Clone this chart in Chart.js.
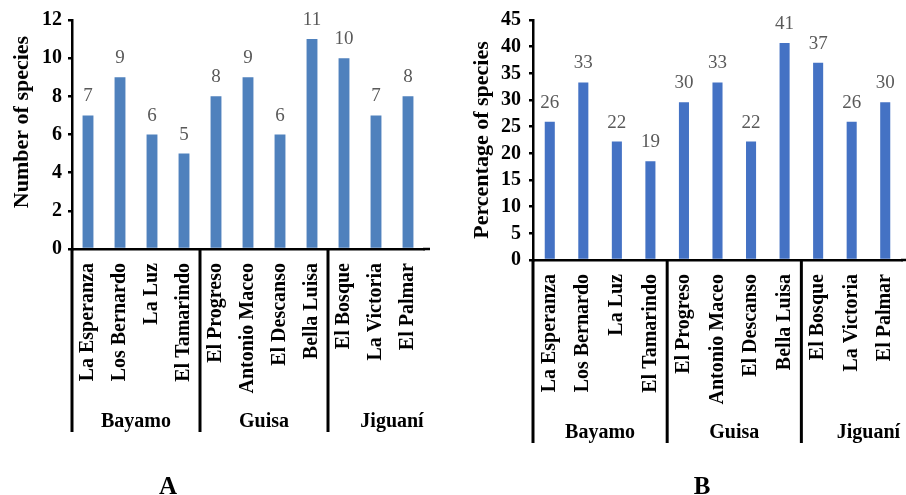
<!DOCTYPE html>
<html>
<head>
<meta charset="utf-8">
<script src="https://cdn.jsdelivr.net/npm/chart.js@4.4.1/dist/chart.umd.min.js"></script>
<style>
  body { margin: 0; background: #fff; }
  #wrap { position: relative; width: 906px; height: 495px; overflow: hidden; }
  canvas { position: absolute; top: 0; }
  #chartA { left: 0; }
  #chartB { left: 460px; }
</style>
</head>
<body>
<div id="wrap">
  <canvas id="chartA" width="460" height="495"></canvas>
  <canvas id="chartB" width="446" height="495"></canvas>
</div>
<script>
const sites = ["La Esperanza", "Los Bernardo", "La Luz", "El Tamarindo",
  "El Progreso", "Antonio Maceo", "El Descanso", "Bella Luisa",
  "El Bosque", "La Victoria", "El Palmar"]
const municipalities = ["Bayamo", "Guisa", "Jiguaní"]
const sitesPerMunicipality = [4, 4, 3]

const speciesCount = [7, 9, 6, 5, 8, 9, 6, 11, 10, 7, 8]
const speciesPercent = [25.9, 33.3, 22.2, 18.5, 29.6, 33.3, 22.2, 40.7, 37.0, 25.9, 29.6]

const countTicks = [0, 2, 4, 6, 8, 10, 12]
const percentTicks = [0, 5, 10, 15, 20, 25, 30, 35, 40, 45]

const serif = "'Liberation Serif', 'Times New Roman', serif"

// value labels, municipality row, y title and panel letter
const groupAxis = {
  id: "groupAxis",
  afterDatasetsDraw(chart, args, opts) {
    const ctx = chart.ctx
    const meta = chart.getDatasetMeta(0)
    const values = chart.data.datasets[0].data
    ctx.save()
    ctx.fillStyle = "#595959"
    ctx.font = "19px " + serif
    ctx.textAlign = "center"
    ctx.textBaseline = "alphabetic"
    meta.data.forEach((bar, i) => {
      ctx.fillText(String(Math.round(values[i])), bar.x, bar.y - 14)
    })
    ctx.restore()
  },
  afterDraw(chart, args, opts) {
    const {ctx, chartArea, scales: {x}} = chart
    const half = (x.getPixelForValue(1) - x.getPixelForValue(0)) / 2
    ctx.save()
    ctx.strokeStyle = "#000"
    ctx.lineWidth = 2.5
    // category axis line runs a bit past the last slot
    ctx.beginPath()
    ctx.moveTo(chartArea.right - 1, chartArea.bottom)
    ctx.lineTo(opts.axisEnd, chartArea.bottom)
    ctx.stroke()

    ctx.lineWidth = 3
    ctx.font = "bold 20px " + serif
    ctx.fillStyle = "#000"
    ctx.textAlign = "center"
    ctx.textBaseline = "middle"
    let start = 0
    municipalities.forEach((name, g) => {
      const left = x.getPixelForValue(start) - half
      const right = x.getPixelForValue(start + sitesPerMunicipality[g] - 1) + half
      ctx.beginPath()
      ctx.moveTo(left, chartArea.bottom)
      ctx.lineTo(left, opts.lineBottom)
      ctx.stroke()
      // last label sits off-centre in the original
      const shift = g == municipalities.length - 1 ? half : 0
      ctx.fillText(name, (left + right) / 2 + shift, opts.labelY)
      start += sitesPerMunicipality[g]
    })

    // y axis title
    ctx.save()
    ctx.translate(opts.titleX, opts.titleY)
    ctx.rotate(-Math.PI / 2)
    ctx.font = "bold 22px " + serif
    ctx.fillText(opts.title, 0, 0)
    ctx.restore()

    // panel letter
    ctx.font = "bold 25px " + serif
    ctx.textBaseline = "alphabetic"
    ctx.fillText(opts.panel, opts.panelX, 494)
    ctx.restore()
  }
}

function makeChart(id, values, ticks, color, barPct, size, extra) {
  return new Chart(document.getElementById(id), {
    type: "bar",
    data: {
      labels: sites,
      datasets: [{
        data: values,
        backgroundColor: color,
        barPercentage: barPct,
        categoryPercentage: 1
      }]
    },
    options: {
      responsive: false,
      animation: false,
      layout: { padding: { left: 0, right: size.padRight, top: 20, bottom: 0 } },
      plugins: {
        legend: { display: false },
        tooltip: { enabled: false },
        groupAxis: extra
      },
      scales: {
        x: {
          afterFit: s => {
            s.height = size.xHeight
            s.paddingLeft = 0
            s.paddingRight = 0
          },
          grid: { display: false },
          border: { display: true, color: "#000", width: 2.5 },
          ticks: {
            autoSkip: false,
            minRotation: 90,
            maxRotation: 90,
            padding: 6,
            color: "#000",
            font: { family: serif, size: 20, weight: "bold" }
          }
        },
        y: {
          afterFit: s => { s.width = size.yWidth },
          min: ticks[0],
          max: ticks[ticks.length - 1],
          grid: { display: true, drawOnChartArea: false, drawTicks: true, tickLength: 4, color: "#000", lineWidth: 2.5 },
          border: { display: true, color: "#000", width: 2.5 },
          ticks: {
            autoSkip: false,
            stepSize: ticks[1] - ticks[0],
            padding: size.yPad,
            color: "#000",
            font: { family: serif, size: 20, weight: "bold" }
          }
        }
      }
    },
    plugins: [groupAxis]
  })
}

makeChart("chartA", speciesCount, countTicks, "#4F81BD", 0.34,
  { padRight: 36, xHeight: 246, yWidth: 72, yPad: 6 },
  { axisEnd: 430, lineBottom: 432, labelY: 422, title: "Number of species", titleX: 22, titleY: 122, panel: "A", panelX: 168 })

makeChart("chartB", speciesPercent, percentTicks, "#4472C4", 0.30,
  { padRight: 4, xHeight: 235, yWidth: 73, yPad: 8 },
  { axisEnd: 446, lineBottom: 443, labelY: 433, title: "Percentage of species", titleX: 22, titleY: 140, panel: "B", panelX: 242 })
</script>
</body>
</html>
